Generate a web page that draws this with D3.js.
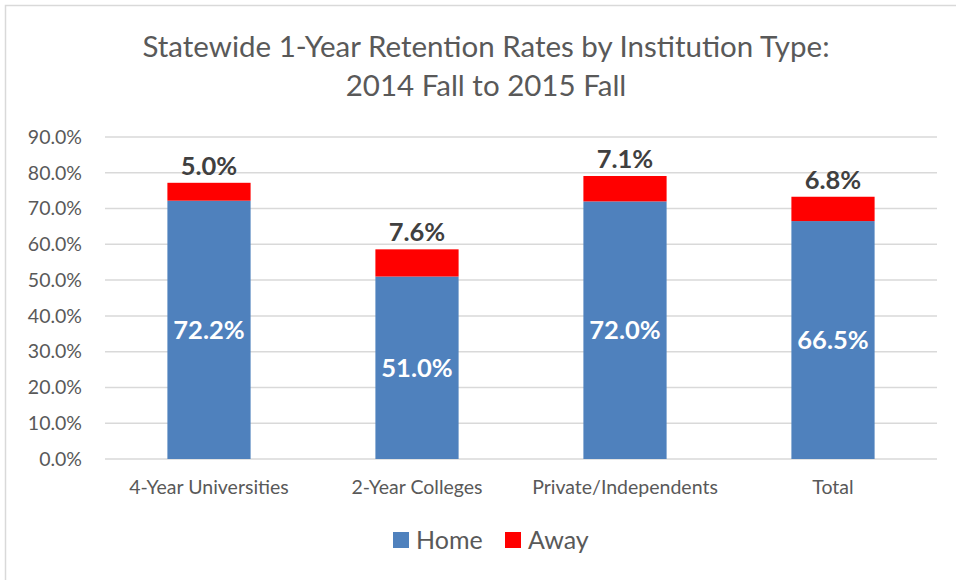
<!DOCTYPE html>
<html lang="en">
<head>
<meta charset="utf-8">
<title>Statewide Retention</title>
<script src="https://cdn.jsdelivr.net/npm/d3@7"></script>
<style>
  body { margin: 0; background: #fff; }
  text { font-family: Lato, "Open Sans", sans-serif; }
</style>
</head>
<body>
<script>
// data
var categories = ["4-Year Universities", "2-Year Colleges", "Private/Independents", "Total"];
var home = [72.2, 51.0, 72.0, 66.5];
var away = [5.0, 7.6, 7.1, 6.8];
var yTicks = [0, 10, 20, 30, 40, 50, 60, 70, 80, 90];
var titleLines = ["Statewide 1-Year Retention Rates by Institution Type:", "2014 Fall to 2015 Fall"];
var seriesNames = ["Home", "Away"];
var colors = ["#4f81bd", "#ff0000"];

var W = 956, H = 580;
// plot area edges (top is a reserved global in browsers, so name them differently)
var plotLeft = 105, plotRight = 937, plotTop = 137, plotBottom = 459;

var svg = d3.select("body").append("svg").attr("width", W).attr("height", H);

// outer chart border (only top and left visible in the crop)
svg.append("rect").attr("x", 5.5).attr("y", 5.5).attr("width", W + 10).attr("height", H + 10)
  .attr("fill", "none").attr("stroke", "#d9d9d9").attr("stroke-width", 1.5);

// title
svg.selectAll("text.title").data(titleLines).enter().append("text")
  .attr("class", "title")
  .attr("x", 486)
  .attr("y", function(d, i) { return 57 + i * 39; })
  .attr("text-anchor", "middle")
  .attr("font-size", 29.5)
  .attr("fill", "#595959")
  .text(function(d) { return d; });

var x = d3.scaleBand().domain(categories).range([plotLeft, plotRight]).paddingInner(0.6).paddingOuter(0.3);
var y = d3.scaleLinear().domain([0, 90]).range([plotBottom, plotTop]);

// gridlines
svg.selectAll("line.grid").data(yTicks).enter().append("line")
  .attr("x1", plotLeft).attr("x2", plotRight)
  .attr("y1", function(d) { return y(d); }).attr("y2", function(d) { return y(d); })
  .attr("stroke", "#d9d9d9").attr("stroke-width", 1.5);

// y axis labels
var yAxis = d3.axisLeft(y).tickValues(yTicks).tickSize(0).tickPadding(0)
  .tickFormat(function(d) { return d.toFixed(1) + "%"; });
var ya = svg.append("g").attr("transform", "translate(82,0)").call(yAxis);
ya.select(".domain").remove();
ya.selectAll("text").attr("font-size", 19.5).attr("fill", "#595959")
  .style("font-family", "Lato, 'Open Sans', sans-serif");

// x axis labels
var xAxis = d3.axisBottom(x).tickSize(0).tickPadding(0);
var xa = svg.append("g").attr("transform", "translate(0,480)").call(xAxis);
xa.select(".domain").remove();
xa.selectAll("text").attr("font-size", 19.5).attr("fill", "#595959")
  .style("font-family", "Lato, 'Open Sans', sans-serif");

// stacked bars
var rows = categories.map(function(c, i) { return { cat: c, home: home[i], away: away[i] }; });
var stacked = d3.stack().keys(["home", "away"])(rows);

svg.selectAll("g.series").data(stacked).enter().append("g")
  .attr("fill", function(d, i) { return colors[i]; })
  .selectAll("rect").data(function(d) { return d; }).enter().append("rect")
  .attr("x", function(d) { return x(d.data.cat); })
  .attr("width", x.bandwidth())
  .attr("y", function(d) { return y(d[1]); })
  .attr("height", function(d) { return y(d[0]) - y(d[1]); });

// home labels (centered, white)
svg.selectAll("text.home").data(rows).enter().append("text")
  .attr("x", function(d) { return x(d.cat) + x.bandwidth() / 2; })
  .attr("y", function(d) { return y(d.home / 2) + 9; })
  .attr("text-anchor", "middle")
  .attr("font-size", 25.5).attr("font-weight", "bold").attr("fill", "#fff")
  .text(function(d) { return d.home.toFixed(1) + "%"; });

// away labels (above bar)
svg.selectAll("text.away").data(rows).enter().append("text")
  .attr("x", function(d) { return x(d.cat) + x.bandwidth() / 2; })
  .attr("y", function(d) { return y(d.home + d.away) - 8; })
  .attr("text-anchor", "middle")
  .attr("font-size", 25.5).attr("font-weight", "bold").attr("fill", "#404040")
  .text(function(d) { return d.away.toFixed(1) + "%"; });

// legend
var legendX = [393, 505];
var lg = svg.selectAll("g.legend").data(seriesNames).enter().append("g")
  .attr("transform", function(d, i) { return "translate(" + legendX[i] + ",532)"; });
lg.append("rect").attr("width", 16).attr("height", 16)
  .attr("fill", function(d, i) { return colors[i]; });
lg.append("text").attr("x", 23).attr("y", 17)
  .attr("font-size", 25).attr("fill", "#595959")
  .text(function(d) { return d; });
</script>
</body>
</html>
